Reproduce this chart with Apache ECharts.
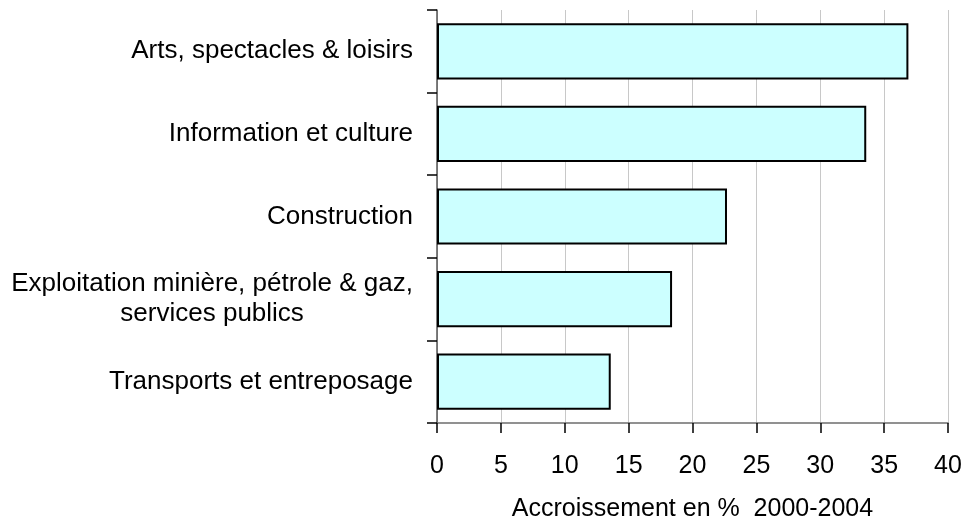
<!DOCTYPE html>
<html>
<head>
<meta charset="utf-8">
<script src="https://cdn.jsdelivr.net/npm/echarts@6/dist/echarts.min.js"></script>
<style>
html,body{margin:0;padding:0;background:#fff;}
#chart{width:965px;height:523px;}
</style>
</head>
<body>
<div id="chart"></div>
<script>
var categories = [
  "Arts, spectacles & loisirs",
  "Information et culture",
  "Construction",
  "Exploitation minière, pétrole & gaz,\nservices publics",
  "Transports et entreposage"
];
var values = [36.9, 33.6, 22.7, 18.4, 13.6];
var xTicks = [0, 5, 10, 15, 20, 25, 30, 35, 40];
var xTitle = "Accroissement en %  2000-2004";

var chart = echarts.init(document.getElementById('chart'), null, {renderer: 'canvas'});
var font = "'Liberation Sans', Arial, sans-serif";
chart.setOption({
  animation: false,
  backgroundColor: '#ffffff',
  grid: {left: 437, right: 17, top: 10, bottom: 100, containLabel: false, outerBoundsMode: 'none'},
  xAxis: {
    type: 'value',
    min: xTicks[0],
    max: xTicks[xTicks.length - 1],
    interval: 5,
    name: xTitle,
    nameLocation: 'middle',
    nameGap: 74,
    nameTextStyle: {color: '#000', fontSize: 25, fontFamily: font},
    axisLine: {show: true, lineStyle: {color: '#6e6e6e', width: 1.5}},
    axisTick: {show: true, length: 10, lineStyle: {color: '#000', width: 1.5}},
    axisLabel: {color: '#000', fontSize: 25, fontFamily: font, margin: 31},
    splitLine: {show: true, lineStyle: {color: '#c8c8c8', width: 1}}
  },
  yAxis: {
    type: 'category',
    data: categories,
    inverse: true,
    axisLine: {show: true, lineStyle: {color: '#555', width: 1.5}},
    axisTick: {show: true, length: 10, lineStyle: {color: '#000', width: 1.5}},
    axisLabel: {
      color: '#000', fontSize: 26, fontFamily: font, margin: 24,
      lineHeight: 30,
      formatter: function (v) {
        return v.split('\n').map(function (s) { return '{c|' + s + '}'; }).join('\n');
      },
      rich: {c: {align: 'center', fontSize: 26, fontFamily: font, color: '#000', lineHeight: 30}}
    },
    splitLine: {show: false}
  },
  series: [{
    type: 'bar',
    data: values,
    barCategoryGap: '32%',
    itemStyle: {color: '#ccffff', borderColor: '#000', borderWidth: 2}
  }]
});
</script>
</body>
</html>
